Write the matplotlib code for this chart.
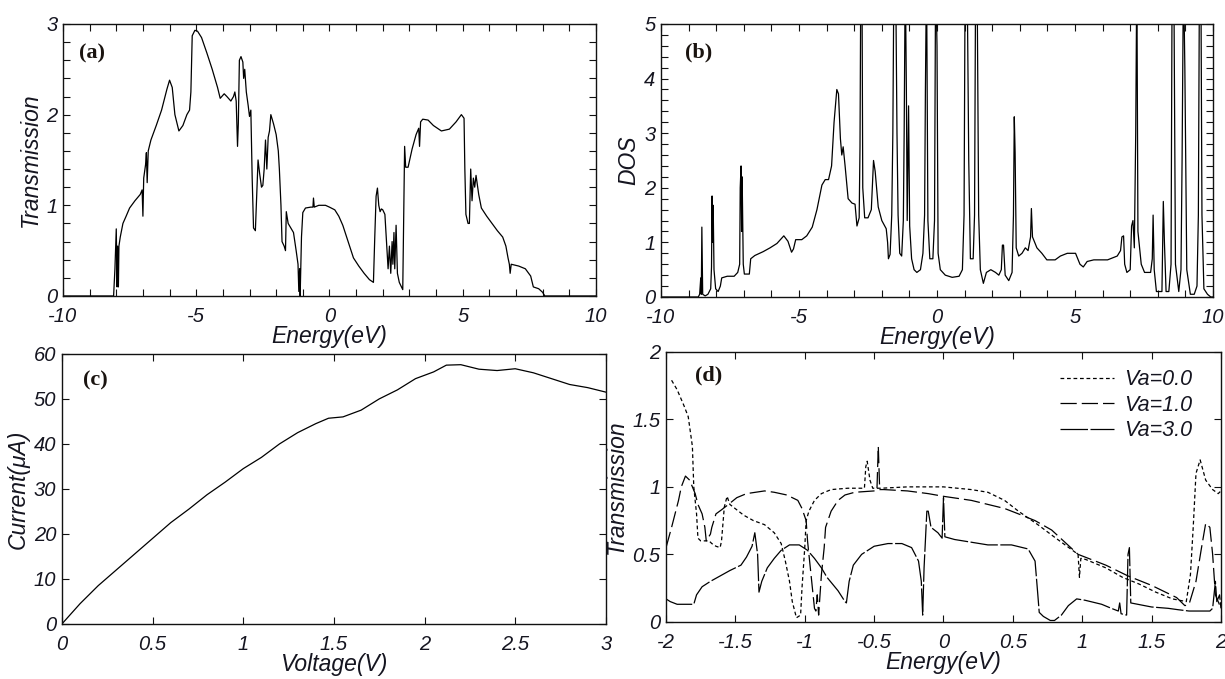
import matplotlib
matplotlib.use("Agg")
import matplotlib.pyplot as plt
from matplotlib.ticker import MultipleLocator, FuncFormatter

plt.rcParams['font.family'] = ['Liberation Sans', 'DejaVu Sans']
plt.rcParams['axes.unicode_minus'] = False

# ---------------- Panel (a): Transmission vs Energy ----------------
a_energy = [-10, -8.1, -8.05, -8.0, -7.97, -7.95, -7.92, -7.9, -7.85, -7.75, -7.63, -7.5, -7.3, -7.1,
            -7.03, -7.0, -6.97, -6.9, -6.87, -6.84, -6.8, -6.7, -6.5, -6.3, -6.1, -6.0, -5.9, -5.8,
            -5.65, -5.5, -5.35, -5.25, -5.2, -5.15, -5.05, -4.95, -4.8, -4.6, -4.4, -4.2, -4.1, -3.95,
            -3.85, -3.7, -3.6, -3.55, -3.5, -3.45, -3.42, -3.38, -3.32, -3.25, -3.22, -3.18, -3.12,
            -3.05, -3.0, -2.95, -2.9, -2.85, -2.78, -2.72, -2.68, -2.62, -2.55, -2.5, -2.45, -2.4,
            -2.35, -2.3, -2.25, -2.2, -2.1, -2.0, -1.92, -1.88, -1.82, -1.78, -1.7, -1.65, -1.62,
            -1.55, -1.45, -1.35, -1.25, -1.18, -1.15, -1.12, -1.1, -1.05, -1.0, -0.9, -0.7, -0.62,
            -0.6, -0.57, -0.4, -0.15, 0.0, 0.2, 0.35, 0.5, 0.7, 0.9, 1.1, 1.3, 1.5, 1.65, 1.7, 1.75,
            1.8, 1.85, 1.9, 1.95, 2.0, 2.08, 2.15, 2.2, 2.25, 2.3, 2.35, 2.38, 2.42, 2.45, 2.5, 2.55,
            2.62, 2.75, 2.82, 2.86, 2.95, 3.1, 3.25, 3.35, 3.38, 3.42, 3.5, 3.7, 3.9, 4.2, 4.5, 4.75,
            4.95, 5.05, 5.08, 5.12, 5.2, 5.25, 5.3, 5.35, 5.4, 5.45, 5.5, 5.6, 5.7, 5.9, 6.1, 6.3,
            6.5, 6.62, 6.7, 6.75, 6.78, 6.82, 7.1, 7.35, 7.55, 7.65, 7.85, 8.0, 8.08, 10]
a_trans = [0, 0, 0.3, 0.74, 0.1, 0.55, 0.1, 0.55, 0.65, 0.8, 0.88, 0.97, 1.05, 1.12,
           1.17, 0.88, 1.3, 1.45, 1.58, 1.25, 1.6, 1.72, 1.88, 2.05, 2.28, 2.38, 2.3, 2.0,
           1.82, 1.88, 2.0, 2.05, 2.25, 2.87, 2.93, 2.92, 2.85, 2.68, 2.5, 2.3, 2.18, 2.23,
           2.2, 2.15, 2.2, 2.25, 2.15, 1.65, 1.9, 2.6, 2.64, 2.58, 2.4, 2.5, 2.25,
           2.1, 1.98, 2.05, 1.3, 0.75, 0.72, 1.2, 1.5, 1.35, 1.2, 1.22, 1.4, 1.72,
           1.4, 1.75, 1.82, 2.0, 1.9, 1.78, 1.6, 1.4, 1.0, 0.6, 0.55, 0.5, 0.93,
           0.8, 0.75, 0.7, 0.5, 0.35, 0.05, 0.3, 0.0, 0.65, 0.92, 0.97, 0.98, 0.98,
           1.08, 0.98, 1.0, 1.0, 0.98, 0.95, 0.88, 0.78, 0.6, 0.42, 0.33, 0.25, 0.18, 0.15, 0.65, 1.1,
           1.19, 1.0, 0.93, 0.96, 0.95, 0.9, 0.55, 0.3, 0.55, 0.25, 0.6, 0.35, 0.7, 0.3, 0.78, 0.25,
           0.15, 0.07, 1.65, 1.42, 1.42, 1.62, 1.78, 1.85, 1.65, 1.92, 1.95, 1.94, 1.88, 1.82, 1.84, 1.92,
           2.0, 1.96, 1.4, 0.9, 0.8, 0.8, 1.4, 1.05, 1.3, 1.2, 1.33, 1.12, 0.97, 0.88, 0.8, 0.72,
           0.65, 0.55, 0.42, 0.35, 0.25, 0.35, 0.33, 0.3, 0.22, 0.1, 0.08, 0.04, 0.0, 0]

# ---------------- Panel (b): DOS vs Energy ----------------
b_energy = [-10, -8.65, -8.6, -8.56, -8.54, -8.52, -8.49, -8.4, -8.3, -8.2, -8.17, -8.15, -8.13, -8.11,
            -8.08, -8.02, -7.93, -7.85, -7.8, -7.6, -7.35, -7.22, -7.15, -7.13, -7.1, -7.08, -7.06,
            -7.02, -6.98, -6.8, -6.75, -6.6, -6.3, -6.05, -5.8, -5.55, -5.4, -5.27, -5.2, -5.12, -4.9,
            -4.72, -4.52, -4.35, -4.17, -4.05, -3.93, -3.82, -3.73, -3.63, -3.57, -3.5, -3.45, -3.4,
            -3.33, -3.22, -3.08, -2.97, -2.9, -2.82, -2.79, -2.76, -2.72, -2.69, -2.62, -2.5, -2.38,
            -2.3, -2.24, -2.13, -2.0, -1.84, -1.79, -1.76, -1.7, -1.64, -1.6, -1.56, -1.5, -1.45,
            -1.41, -1.35, -1.28, -1.22, -1.19, -1.15, -1.11, -1.08, -1.03, -0.99, -0.92, -0.83, -0.73,
            -0.6, -0.51, -0.45, -0.42, -0.38, -0.33, -0.26, -0.15, -0.09, -0.05, 0.0, 0.04, 0.12, 0.3,
            0.55, 0.8, 0.92, 0.98, 1.02, 1.09, 1.15, 1.21, 1.31, 1.36, 1.4, 1.45, 1.51, 1.57, 1.68,
            1.79, 1.95, 2.12, 2.24, 2.33, 2.37, 2.41, 2.47, 2.6, 2.72, 2.77, 2.8, 2.83, 2.87, 2.96,
            3.08, 3.2, 3.3, 3.39, 3.42, 3.46, 3.62, 3.8, 3.98, 4.28, 4.47, 4.72, 5.02, 5.18, 5.3,
            5.44, 5.68, 6.18, 6.53, 6.65, 6.7, 6.76, 6.8, 6.88, 7.0, 7.05, 7.1, 7.15, 7.2, 7.24,
            7.28, 7.4, 7.52, 7.74, 7.8, 7.83, 7.87, 7.95, 8.15, 8.2, 8.24, 8.3, 8.4, 8.48, 8.52,
            8.58, 8.64, 8.76, 8.84, 8.88, 8.93, 8.98, 9.05, 9.18, 9.32, 9.42, 9.47, 9.51, 9.56,
            9.6, 9.67, 9.8, 9.92, 10]
b_dos = [0, 0, 0.05, 0.35, 0.05, 1.28, 0.05, 0.02, 0.05, 0.15, 0.55, 1.85, 1.0, 1.68,
         0.5, 0.15, 0.1, 0.2, 0.35, 0.38, 0.38, 0.45, 0.6, 2.0, 2.4, 1.2, 2.2,
         0.6, 0.42, 0.42, 0.7, 0.76, 0.83, 0.9, 0.98, 1.12, 1.02, 0.82, 0.88, 1.05, 1.05,
         1.12, 1.28, 1.6, 2.05, 2.15, 2.15, 2.4, 3.2, 3.8, 3.72, 2.9, 2.6, 2.75,
         2.4, 1.8, 1.72, 1.7, 1.3, 1.45, 2.75, 6, 6, 2.0, 1.45, 1.45, 1.6,
         2.5, 2.3, 1.65, 1.4, 1.25, 1.0, 0.7, 0.78, 1.5, 3.0, 6, 6, 3.0,
         1.5, 0.8, 0.75, 1.4, 3.0, 6, 3.8, 1.4, 3.5, 1.3, 0.7, 0.5, 0.45,
         0.5, 0.8, 1.5, 3.8, 6, 1.4, 0.7, 0.7, 1.4, 6, 4.6, 0.8, 0.5, 0.4,
         0.36, 0.38, 0.5, 1.5, 6, 6, 2.5, 0.7, 0.7, 1.5, 6, 6, 1.5, 0.5, 0.25,
         0.45, 0.5, 0.45, 0.4, 0.5, 0.95, 0.95, 0.4, 0.3, 0.45, 1.5, 3.3, 2.65, 0.9, 0.75,
         0.8, 0.9, 0.85, 1.1, 1.62, 1.1, 0.9, 0.8, 0.68, 0.68, 0.75, 0.8, 0.8, 0.6, 0.55,
         0.65, 0.68, 0.68, 0.75, 0.85, 1.1, 1.12, 0.6, 0.45, 0.5, 1.3, 1.4, 0.9, 3.0, 6,
         1.2, 0.6, 0.45, 0.45, 0.7, 1.5, 0.5, 0.1, 0.1, 1.75, 1.0, 0.1, 0.1, 0.6, 6,
         6, 0.6, 0.1, 0.5, 2.5, 6, 4.2, 0.5, 0.05, 0.05, 0.2, 1.5, 6, 6,
         1.5, 0.15, 0.05, 0.0, 0]

# ---------------- Panel (c): I-V ----------------
c_voltage = [0, 0.1, 0.2, 0.3, 0.4, 0.5, 0.6, 0.7, 0.8, 0.9, 1.0, 1.1, 1.2, 1.3, 1.4, 1.47, 1.55,
             1.65, 1.75, 1.85, 1.95, 2.05, 2.12, 2.2, 2.3, 2.4, 2.5, 2.6, 2.7, 2.8, 2.9, 3.0]
c_current = [0, 4.5, 8.5, 12, 15.5, 19, 22.5, 25.5, 28.7, 31.5, 34.5, 37, 40, 42.5, 44.5, 45.7, 46,
             47.5, 50, 52, 54.5, 56, 57.5, 57.6, 56.6, 56.3, 56.7, 55.8, 54.5, 53.2, 52.5, 51.5]

# ---------------- Panel (d): Transmission under bias ----------------
d_energy_v0 = [-1.96, -1.92, -1.87, -1.84, -1.81, -1.8, -1.78, -1.77, -1.75, -1.72, -1.69, -1.67,
               -1.64, -1.61, -1.6, -1.58, -1.56, -1.54, -1.49, -1.44, -1.37, -1.29, -1.22, -1.17,
               -1.14, -1.11, -1.09, -1.06, -1.03, -1.02, -1.0, -0.99, -0.97, -0.93, -0.88, -0.81,
               -0.69, -0.57, -0.56, -0.55, -0.53, -0.51, -0.45, -0.26, 0.0, 0.2, 0.32, 0.44, 0.54,
               0.68, 0.81, 0.93, 0.97, 0.98, 0.99, 1.0, 1.03, 1.17, 1.29, 1.41, 1.53, 1.65, 1.75,
               1.78, 1.8, 1.82, 1.85, 1.89, 1.94, 1.98, 2.0]
d_trans_v0 = [1.79, 1.72, 1.6, 1.52, 1.3, 1.0, 0.8, 0.62, 0.6, 0.6, 0.6, 0.58,
              0.56, 0.55, 0.6, 0.85, 0.93, 0.87, 0.83, 0.79, 0.75, 0.72, 0.66, 0.58,
              0.45, 0.3, 0.15, 0.03, 0.05, 0.25, 0.55, 0.75, 0.82, 0.9, 0.95, 0.98,
              0.99, 0.99, 1.15, 1.19, 1.05, 0.99, 0.99, 1.0, 1.0, 0.98, 0.96, 0.9, 0.82,
              0.72, 0.62, 0.53, 0.5, 0.33, 0.47, 0.47, 0.46, 0.4, 0.33, 0.28, 0.22, 0.17, 0.15,
              0.35, 0.7, 1.1, 1.2, 1.05, 0.98, 0.95, 0.97]

d_energy_v1 = [-2.0, -1.96, -1.91, -1.89, -1.86, -1.83, -1.79, -1.77, -1.74, -1.72, -1.71, -1.68,
               -1.67, -1.64, -1.6, -1.55, -1.49, -1.42, -1.29, -1.22, -1.13, -1.05, -1.02, -0.99,
               -0.98, -0.97, -0.96, -0.93, -0.92, -0.91, -0.9, -0.88, -0.86, -0.85, -0.81, -0.76,
               -0.71, -0.64, -0.5, -0.48, -0.47, -0.46, -0.43, -0.26, -0.11, 0.0, 0.2, 0.44, 0.54,
               0.66, 0.78, 0.97, 1.17, 1.33, 1.5, 1.68, 1.74, 1.77, 1.82, 1.86, 1.89, 1.92, 1.94,
               1.96, 2.0]
d_trans_v1 = [0.55, 0.7, 0.9, 1.0, 1.08, 1.05, 0.95, 0.87, 0.8, 0.7, 0.6, 0.65,
              0.7, 0.8, 0.83, 0.87, 0.92, 0.95, 0.97, 0.96, 0.94, 0.9, 0.84, 0.75,
              0.6, 0.5, 0.4, 0.1, 0.08, 0.2, 0.05, 0.35, 0.55, 0.7, 0.82, 0.9,
              0.94, 0.96, 0.97, 0.97, 1.3, 0.98, 0.98, 0.97, 0.95, 0.93, 0.9, 0.84, 0.8,
              0.75, 0.68, 0.5, 0.42, 0.34, 0.27, 0.18, 0.12, 0.13, 0.3, 0.55, 0.73, 0.7, 0.5,
              0.2, 0.1]

d_energy_v3 = [-2.0, -1.97, -1.92, -1.8, -1.78, -1.74, -1.68, -1.61, -1.54, -1.46, -1.42, -1.38,
               -1.36, -1.34, -1.33, -1.31, -1.27, -1.22, -1.17, -1.11, -1.04, -0.98, -0.93, -0.88,
               -0.84, -0.76, -0.71, -0.7, -0.68, -0.65, -0.59, -0.5, -0.4, -0.3, -0.23, -0.18,
               -0.16, -0.15, -0.14, -0.12, -0.11, -0.09, -0.04, -0.01, 0.0, 0.01, 0.08, 0.2, 0.32,
               0.49, 0.61, 0.66, 0.68, 0.69, 0.72, 0.77, 0.8, 0.85, 0.9, 0.96, 1.02, 1.14, 1.21,
               1.26, 1.27, 1.28, 1.32, 1.33, 1.34, 1.35, 1.4, 1.5, 1.62, 1.69, 1.77, 1.92, 1.94,
               1.96, 1.97, 1.99, 2.0]
d_trans_v3 = [0.17, 0.15, 0.13, 0.13, 0.2, 0.26, 0.3, 0.34, 0.38, 0.42, 0.48, 0.56,
              0.66, 0.5, 0.22, 0.3, 0.4, 0.47, 0.53, 0.57, 0.57, 0.53, 0.47, 0.4,
              0.33, 0.23, 0.15, 0.14, 0.3, 0.42, 0.5, 0.56, 0.58, 0.58, 0.55, 0.45,
              0.3, 0.05, 0.4, 0.82, 0.82, 0.7, 0.66, 0.62, 0.92, 0.63, 0.61, 0.59, 0.57,
              0.57, 0.54, 0.45, 0.2, 0.07, 0.04, 0.01, 0.01, 0.05, 0.12, 0.17, 0.16, 0.13, 0.1,
              0.08, 0.14, 0.06, 0.05, 0.5, 0.55, 0.14, 0.13, 0.11, 0.1, 0.09, 0.08, 0.08, 0.1,
              0.3, 0.15, 0.2, 0.1]

legend_labels = ['Va=0.0', 'Va=1.0', 'Va=3.0']

# ---------------- Figure ----------------
TXT = '#151520'
fig = plt.figure(figsize=(12.25, 6.79), dpi=100)
ax_a = fig.add_axes([0.0514, 0.5641, 0.4351, 0.4006])
ax_b = fig.add_axes([0.5396, 0.5626, 0.4506, 0.4021])
ax_c = fig.add_axes([0.0506, 0.0812, 0.4440, 0.3976])
ax_d = fig.add_axes([0.5437, 0.0842, 0.4530, 0.3975])

fmt = FuncFormatter(lambda v, p: '%g' % v)

def style(ax, xlab, ylab, tag, tagpos):
    for s in ax.spines.values():
        s.set_linewidth(1.0)
        s.set_color('#111111')
    ax.tick_params(which='both', direction='in', top=True, right=True, length=5,
                   width=0.8, colors='#111111', labelcolor=TXT, labelsize=14.5)
    ax.tick_params(axis='x', pad=8)
    ax.tick_params(axis='y', pad=4)
    for lab in ax.get_xticklabels() + ax.get_yticklabels():
        lab.set_fontstyle('italic')
    ax.xaxis.set_major_formatter(fmt)
    ax.yaxis.set_major_formatter(fmt)
    ax.set_xlabel(xlab, fontsize=16.5, style='italic', color=TXT, labelpad=-1)
    ax.set_ylabel(ylab, fontsize=16.5, style='italic', color=TXT, labelpad=3)
    ax.text(tagpos[0], tagpos[1], tag, transform=ax.transAxes, ha='left', va='center',
            fontsize=16, fontweight='bold', family='Liberation Serif', color='#1a1410')

lw = 0.9
# (a)
ax_a.plot(a_energy, a_trans, color='black', lw=lw)
ax_a.set_xlim(-10, 10)
ax_a.set_ylim(0, 3)
ax_a.xaxis.set_major_locator(MultipleLocator(5))
ax_a.xaxis.set_minor_locator(MultipleLocator(1))
ax_a.yaxis.set_major_locator(MultipleLocator(1))
ax_a.yaxis.set_minor_locator(MultipleLocator(0.2))
style(ax_a, 'Energy(eV)', 'Transmission', '(a)', (0.03, 0.89))

# (b)
ax_b.plot(b_energy, b_dos, color='black', lw=lw)
ax_b.set_xlim(-10, 10)
ax_b.set_ylim(0, 5)
ax_b.xaxis.set_major_locator(MultipleLocator(5))
ax_b.xaxis.set_minor_locator(MultipleLocator(1))
ax_b.yaxis.set_major_locator(MultipleLocator(1))
ax_b.yaxis.set_minor_locator(MultipleLocator(0.2))
style(ax_b, 'Energy(eV)', 'DOS', '(b)', (0.043, 0.894))

# (c)
ax_c.plot(c_voltage, c_current, color='black', lw=lw)
ax_c.set_xlim(0, 3)
ax_c.set_ylim(0, 60)
ax_c.xaxis.set_major_locator(MultipleLocator(0.5))
ax_c.yaxis.set_major_locator(MultipleLocator(10))
style(ax_c, 'Voltage(V)', 'Current(\u03bcA)', '(c)', (0.039, 0.90))

# (d)
ax_d.plot(d_energy_v0, d_trans_v0, color='black', lw=lw, linestyle=(0, (3, 2.2)), label=legend_labels[0])
ax_d.plot(d_energy_v1, d_trans_v1, color='black', lw=lw, linestyle=(0, (13, 4)), label=legend_labels[1])
ax_d.plot(d_energy_v3, d_trans_v3, color='black', lw=lw, linestyle=(0, (22, 2)), label=legend_labels[2])
ax_d.set_xlim(-2, 2)
ax_d.set_ylim(0, 2)
ax_d.xaxis.set_major_locator(MultipleLocator(0.5))
ax_d.yaxis.set_major_locator(MultipleLocator(0.5))
style(ax_d, 'Energy(eV)', 'Transmission', '(d)', (0.052, 0.912))
leg = ax_d.legend(loc='upper left', bbox_to_anchor=(0.69, 0.975), frameon=False,
                  handlelength=2.5, handletextpad=0.5, labelspacing=0.2, borderpad=0,
                  prop={'size': 15.5, 'style': 'italic'})
for t in leg.get_texts():
    t.set_color(TXT)

fig.savefig('out.png', dpi=100)
